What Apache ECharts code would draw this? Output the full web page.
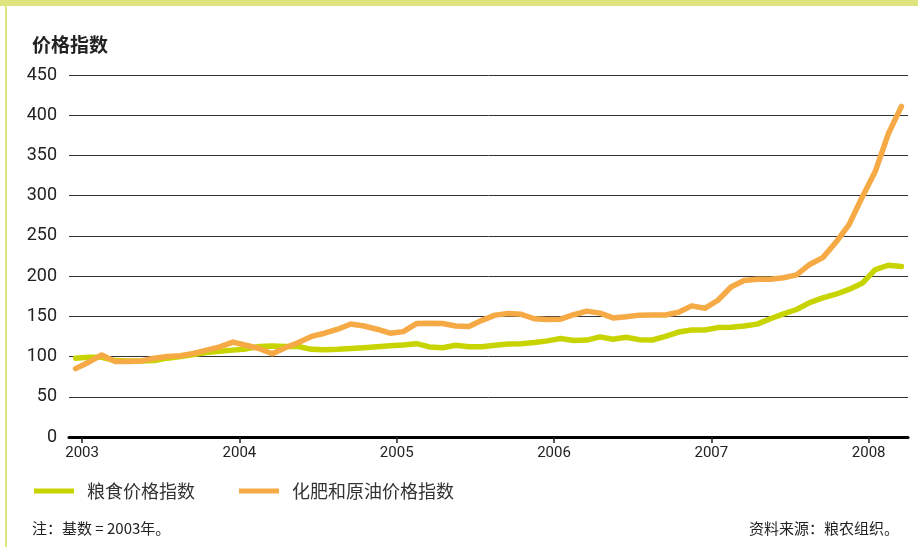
<!DOCTYPE html>
<html>
<head>
<meta charset="utf-8">
<script src="https://cdn.jsdelivr.net/npm/echarts@6/dist/echarts.min.js"></script>
<style>
html,body{margin:0;padding:0;background:#fff;}
#wrap{position:relative;width:918px;height:547px;overflow:hidden;background:#fff;}
#topband{position:absolute;left:0;top:0;width:918px;height:6px;background:#dee47e;}
#leftband{position:absolute;left:5px;top:0;width:2px;height:547px;background:#dee47e;}
#chart{position:absolute;left:0;top:0;width:918px;height:547px;}
</style>
</head>
<body>
<div id="wrap">
<div id="chart"></div>
<div id="topband"></div>
<div id="leftband"></div>
</div>
<script>
// Monthly values, Jan 2003 .. Apr 2008
const foodIndex = [98,99,99,95,94.5,94.5,95,98,100,102.5,105,106.5,
  108,109.5,112.5,113,112.5,112.5,109,108.5,109,110,111,112.3,
  113.5,114.5,116,112,111,114,112.3,112.3,114,115.7,116,117.5,
  119.5,122.5,120,120.5,124.5,121.5,124,121,120.6,125,130.5,133,
  133,136,136.5,138,140.3,147,153,158.5,167,173,177.5,183.5,
  191,208,213.5,212];
const fertOilIndex = [85,93,102,94,94,94.5,98,100,101,104,108,112,
  118,114,110,103.5,111,117.5,125,129,134,140.5,138,134,
  129,131,141,141.5,141,138,137.5,145,151.5,153.5,152.5,147,
  146,146.5,152,156.5,154,148,149.5,151.5,151.7,151.7,155,163,
  160,170,186.5,194.5,196,196,198,201.5,214.5,223,242,264,
  298,330,377,411];
const yearLabels = ['2003','2004','2005','2006','2007','2008'];
const seriesNames = ['粮食价格指数','化肥和原油价格指数'];
const yTicks = [0,50,100,150,200,250,300,350,400,450];

const yearTickPos = yearLabels.map((y,i)=>i*12+0.5);
const toXY = arr => arr.map((v,i)=>[i,v]);

const chart = echarts.init(document.getElementById('chart'), null, {renderer:'canvas'});
chart.setOption({
  animation:false,
  backgroundColor:'#fff',
  title:[
    {text:'价格指数',left:27,top:30,textStyle:{fontFamily:'Noto Sans CJK SC',fontSize:19,fontWeight:'bold',color:'#222'}},
    {text:'注：基数 = 2003年。',left:27,top:516,textStyle:{fontFamily:'Noto Sans CJK SC',fontSize:15,fontWeight:'normal',color:'#222'}},
    {text:'资料来源：粮农组织。',right:14,top:516,textStyle:{fontFamily:'Noto Sans CJK SC',fontSize:15,fontWeight:'normal',color:'#222'}}
  ],
  legend:{
    left:29, top:477, itemWidth:40, itemHeight:5, itemGap:44,
    icon:'rect',
    textStyle:{fontFamily:'Noto Sans CJK SC',fontSize:18,color:'#333',padding:[0,0,0,8]},
    data:seriesNames
  },
  grid:{left:69,right:10,top:75,bottom:110,containLabel:false},
  xAxis:{
    type:'value', min:-0.5, max:63.5,
    axisLine:{show:true,onZero:false,lineStyle:{color:'#000',width:3}},
    axisTick:{show:true,customValues:yearTickPos,length:6,lineStyle:{color:'#222',width:1.5}},
    axisLabel:{customValues:yearTickPos,margin:9,fontFamily:'Roboto',fontSize:15,color:'#222',
      formatter:v=>yearLabels[Math.round((v-0.5)/12)]},
    splitLine:{show:false}
  },
  yAxis:{
    type:'value', min:yTicks[0], max:yTicks[yTicks.length-1], interval:50,
    axisLine:{show:false}, axisTick:{show:false},
    axisLabel:{margin:12,fontFamily:'Roboto',fontSize:18,color:'#222'},
    splitLine:{show:true,lineStyle:{color:'#333',width:1}}
  },
  series:[
    {name:seriesNames[0],type:'line',data:toXY(foodIndex),showSymbol:false,symbol:'none',
      lineStyle:{color:'#c8d400',width:5.5,join:'round',cap:'round'},itemStyle:{color:'#c8d400'}},
    {name:seriesNames[1],type:'line',data:toXY(fertOilIndex),showSymbol:false,symbol:'none',
      lineStyle:{color:'#f6aa45',width:5.5,join:'round',cap:'round'},itemStyle:{color:'#f6aa45'}}
  ]
});
</script>
</body>
</html>
